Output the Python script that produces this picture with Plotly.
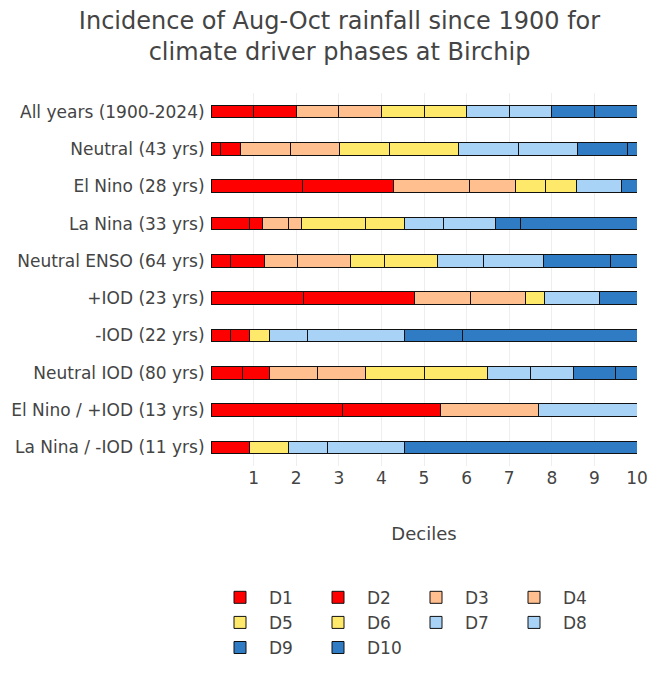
import plotly.graph_objects as go

categories = [
    "All years (1900-2024)",
    "Neutral (43 yrs)",
    "El Nino (28 yrs)",
    "La Nina (33 yrs)",
    "Neutral ENSO (64 yrs)",
    "+IOD (23 yrs)",
    "-IOD (22 yrs)",
    "Neutral IOD (80 yrs)",
    "El Nino / +IOD (13 yrs)",
    "La Nina / -IOD (11 yrs)",
]
years = [125, 43, 28, 33, 64, 23, 22, 80, 13, 11]

# number of years falling in each decile, per category
D1 = [12.5, 1, 6, 3, 3, 5, 1, 6, 4, 1]
D2 = [12.5, 2, 6, 1, 5, 6, 1, 5, 3, 0]
D3 = [12.5, 5, 5, 2, 5, 3, 0, 9, 3, 0]
D4 = [12.5, 5, 3, 1, 8, 3, 0, 9, 0, 0]
D5 = [12.5, 5, 2, 5, 5, 1, 1, 11, 0, 1]
D6 = [12.5, 7, 2, 3, 8, 0, 0, 12, 0, 0]
D7 = [12.5, 6, 3, 3, 7, 3, 2, 8, 3, 1]
D8 = [12.5, 6, 0, 4, 9, 0, 5, 8, 0, 2]
D9 = [12.5, 5, 1, 2, 10, 2, 3, 8, 0, 6]
D10 = [12.5, 1, 0, 9, 4, 0, 9, 4, 0, 0]

series_names = ["D1", "D2", "D3", "D4", "D5", "D6", "D7", "D8", "D9", "D10"]
series_counts = [D1, D2, D3, D4, D5, D6, D7, D8, D9, D10]
colors = ["#ff0000", "#ff0000", "#ffbf8f", "#ffbf8f", "#ffe96a",
          "#ffe96a", "#a9d2f7", "#a9d2f7", "#2f7bc4", "#2f7bc4"]

tick_vals = [1, 2, 3, 4, 5, 6, 7, 8, 9, 10]

font_family = "DejaVu Sans"

fig = go.Figure()
for name, counts, col in zip(series_names, series_counts, colors):
    shares = [c / n * 10 for c, n in zip(counts, years)]
    fig.add_trace(go.Bar(
        y=categories,
        x=shares,
        name=name,
        orientation="h",
        marker=dict(color=col, line=dict(color="#111111", width=1)),
        hoverinfo="x+y+name",
    ))

fig.update_layout(
    width=663,
    height=678,
    barmode="stack",
    bargap=0.66,
    paper_bgcolor="white",
    plot_bgcolor="white",
    font=dict(family=font_family, size=17, color="#444444"),
    title=dict(
        text="Incidence of Aug-Oct rainfall since 1900 for<br>climate driver phases at Birchip",
        x=0.5, xanchor="center", y=1 - 21 / 678, yanchor="middle",
        font=dict(family=font_family, size=24, color="#444444"),
    ),
    margin=dict(l=203, r=34, t=84.5, b=220, autoexpand=False),
    xaxis=dict(
        range=[0, 10],
        tickvals=tick_vals,
        showgrid=True,
        gridcolor="#eeeeee",
        gridwidth=1,
        zeroline=False,
        showline=False,
        automargin=False,
        title=dict(text="Deciles", standoff=40, font=dict(size=18)),
        tickfont=dict(size=17),
    ),
    yaxis=dict(
        autorange="reversed",
        showgrid=False,
        zeroline=False,
        automargin=False,
        ticksuffix=" ",
        tickfont=dict(size=17),
    ),
    legend=dict(
        orientation="h",
        x=0.0,
        xanchor="left",
        y=-0.305,
        yanchor="top",
        traceorder="normal",
        itemwidth=48,
        entrywidth=35,
        entrywidthmode="pixels",
        font=dict(size=17),
    ),
)

fig.write_html("out.html")
